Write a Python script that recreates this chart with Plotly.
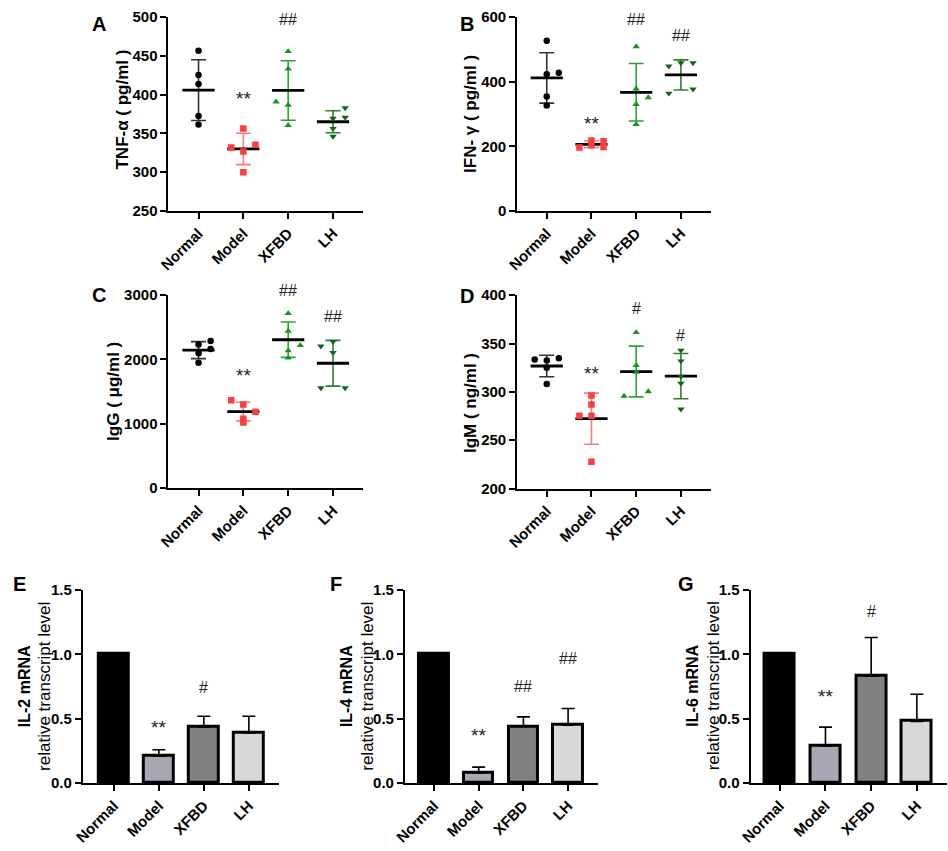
import numpy as np
import plotly.graph_objects as go

W, H = 948, 851

groups = ["Normal", "Model", "XFBD", "LH"]

# ---- scatter panels: individual values (5 per group) and horizontal lane of each point ----
tnf_values = [[456.6, 425.4, 413.6, 372.3, 361.3],
              [356.2, 335.2, 331.8, 326.7, 299.7],
              [455.7, 433.4, 390.8, 386.6, 360.4],
              [382.8, 370.6, 369.3, 356.2, 346.1]]
tnf_lanes = [[0, 0, 0, 0, 0], [0, 1, -1, 0, 0], [0, 0, -1, 0, 0], [1, 1, 0, 0, 0]]

ifn_values = [[527, 428, 423, 354, 326],
              [196, 218, 203, 216, 198],
              [509, 378, 351, 330, 268],
              [458, 458, 448, 377, 364]]
ifn_lanes = [[0, 1, 0, 0, 0], [-1, 0, 0, 1, 1], [0, 0, 1, 0, 0], [0, 1, -1, 1, -1]]

igg_values = [[2288, 2232, 2161, 2095, 1947],
              [1363, 1297, 1185, 1078, 1017],
              [2715, 2441, 2217, 2136, 2024],
              [2278, 2207, 2105, 1556, 1556]]
igg_lanes = [[1, 0, 1, 0, 0], [-1, 0, 1, 0, 0], [0, 0, 1, 0, 0], [0, -1, 0, -1, 1]]

igm_values = [[334.8, 333.5, 332.4, 325.0, 308.0],
              [296.3, 286.8, 275.3, 275.3, 227.7],
              [361.5, 327.4, 320.3, 300.3, 295.6],
              [342.9, 331.8, 315.9, 308.8, 282.0]]
igm_lanes = [[1, -1, 0, 0, 0], [0, 0, -1, 0, 0], [0, 0, 0, 1, -1], [0, 0, 0, 0, 0]]

# ---- bar panels: mean and SD ----
il2_mean = [1.0, 0.21, 0.435, 0.39]
il2_sd = [0.0, 0.05, 0.085, 0.13]
il4_mean = [1.0, 0.08, 0.44, 0.45]
il4_sd = [0.0, 0.045, 0.075, 0.13]
il6_mean = [1.0, 0.29, 0.83, 0.48]
il6_sd = [0.0, 0.145, 0.30, 0.21]

# ---- significance labels ----
tnf_sig = ["", "**", "##", ""];  tnf_sig_y = [None, 401, 497, None]
ifn_sig = ["", "**", "##", "##"]; ifn_sig_y = [None, 286, 593, 544]
igg_sig = ["", "**", "##", "##"]; igg_sig_y = [None, 1820, 3071, 2664]
igm_sig = ["", "**", "#", "#"];  igm_sig_y = [None, 324, 386, 358]
il2_sig = ["", "**", "#", ""];   il2_sig_y = [None, 0.469, 0.742, None]
il4_sig = ["", "**", "##", "##"]; il4_sig_y = [None, 0.41, 0.753, 0.968]
il6_sig = ["", "**", "#", ""];   il6_sig_y = [None, 0.714, 1.335, None]

# ---- styles ----
FONT = "Arial, Liberation Sans, sans-serif"
symbols = ["circle", "square", "triangle-up", "triangle-down"]
msizes = [6.5, 6.5, 6.5, 6.5]
mcolors = ["#000000", "#ff3d3d", "#16961a", "#0a6a12"]
ecolors = ["#333333", "#ff7a7a", "#2aa52e", "#2f7d35"]
bar_colors = ["#000000", "#a8a8b2", "#818181", "#d8d8d8"]
LANE = 0.27

fig = go.Figure()


def px_dom_x(a, b):
    return [a / W, b / W]


def px_dom_y(top, bot):
    return [1 - bot / H, 1 - top / H]


panels = [
    dict(n=1, xd=(158.5, 356), yd=(8.3, 206), yr=[250, 500], dt=50, xr=[-0.67, 3.68]),
    dict(n=2, xd=(511.7, 708.3), yd=(8.3, 206), yr=[0, 600], dt=200, xr=[-0.66, 3.68]),
    dict(n=3, xd=(158.5, 356), yd=(292, 488.7), yr=[0, 3000], dt=1000, xr=[-0.67, 3.68]),
    dict(n=4, xd=(511.7, 708.3), yd=(292, 489.3), yr=[200, 400], dt=50, xr=[-0.66, 3.68]),
    dict(n=5, xd=(71.7, 270), yd=(592.7, 790), yr=[0, 1.5], dt=0.5, xr=[-0.69, 3.66]),
    dict(n=6, xd=(398, 594), yd=(592.7, 790), yr=[0, 1.5], dt=0.5, xr=[-0.65, 3.68]),
    dict(n=7, xd=(748, 947), yd=(592.7, 790), yr=[0, 1.5], dt=0.5, xr=[-0.64, 3.66]),
]

tickfont = dict(family=FONT, size=15, color="#000000")
for p in panels:
    n = p["n"]
    xa = "xaxis" if n == 1 else f"xaxis{n}"
    ya = "yaxis" if n == 1 else f"yaxis{n}"
    fig.layout[xa] = dict(domain=px_dom_x(*p["xd"]), range=p["xr"], anchor=f"y{'' if n == 1 else n}",
                          tickvals=[0, 1, 2, 3], ticktext=[f"<b>{g}</b>" for g in groups],
                          tickangle=-45, showline=True, linecolor="#000", linewidth=2,
                          ticks="outside", ticklen=6, tickwidth=2, tickcolor="#000",
                          showgrid=False, zeroline=False, tickfont=tickfont, fixedrange=True)
    fig.layout[ya] = dict(domain=px_dom_y(*p["yd"]), range=p["yr"], anchor=f"x{'' if n == 1 else n}",
                          dtick=p["dt"], tick0=p["yr"][0], showline=True, linecolor="#000", linewidth=2,
                          ticks="outside", ticklen=6, tickwidth=2, tickcolor="#000",
                          showgrid=False, zeroline=False, tickfont=tickfont,
                          tickformat=".1f" if p["dt"] < 1 else "d",
                          tickprefix="<b>", ticksuffix="</b>", fixedrange=True)


def axref(n):
    return ("x" if n == 1 else f"x{n}"), ("y" if n == 1 else f"y{n}")


def add_scatter_panel(n, values, lanes):
    xr, yr = axref(n)
    for i, g in enumerate(groups):
        v = np.array(values[i], dtype=float)
        mean = v.mean()
        sd = v.std(ddof=1)
        fig.add_trace(go.Scatter(
            x=[i], y=[mean], mode="markers", xaxis=xr, yaxis=yr, showlegend=False,
            marker=dict(symbol="line-ew", size=23, line=dict(width=2.8, color="#000")),
            error_y=dict(type="data", array=[sd], color=ecolors[i], thickness=1.6, width=7.5),
        ))
        xs = [i + LANE * l for l in lanes[i]]
        fig.add_trace(go.Scatter(
            x=xs, y=v, mode="markers", xaxis=xr, yaxis=yr, showlegend=False,
            marker=dict(symbol=symbols[i], size=msizes[i], color=mcolors[i], line=dict(width=0)),
        ))


def add_bar_panel(n, means, sds):
    xr, yr = axref(n)
    fig.add_trace(go.Bar(
        x=[0, 1, 2, 3], y=means, width=0.66, xaxis=xr, yaxis=yr, showlegend=False,
        marker=dict(color=bar_colors, line=dict(color="#000", width=3)),
        error_y=dict(type="data", array=sds, arrayminus=[0] * 4, symmetric=False,
                     color="#000", thickness=1.6, width=6.5),
    ))


add_scatter_panel(1, tnf_values, tnf_lanes)
add_scatter_panel(2, ifn_values, ifn_lanes)
add_scatter_panel(3, igg_values, igg_lanes)
add_scatter_panel(4, igm_values, igm_lanes)
add_bar_panel(5, il2_mean, il2_sd)
add_bar_panel(6, il4_mean, il4_sd)
add_bar_panel(7, il6_mean, il6_sd)

annotations = []
sig_sets = [(1, tnf_sig, tnf_sig_y), (2, ifn_sig, ifn_sig_y), (3, igg_sig, igg_sig_y),
            (4, igm_sig, igm_sig_y), (5, il2_sig, il2_sig_y), (6, il4_sig, il4_sig_y),
            (7, il6_sig, il6_sig_y)]
for n, labels, ys in sig_sets:
    p = panels[n - 1]
    lo, hi = p["yr"]
    xr, yr = axref(n)
    for i, (t, y) in enumerate(zip(labels, ys)):
        if not t:
            continue
        annotations.append(dict(
            x=i, xref=xr, y=(y - lo) / (hi - lo), yref=f"{yr} domain",
            text=t, showarrow=False, xanchor="center", yanchor="middle",
            yshift=-5 if t == "**" else 0,
            font=dict(family=FONT, size=19 if t == "**" else 16, color="#222")))

# panel letters
letters = [("A", 88, 15), ("B", 461, 15), ("C", 88, 292), ("D", 461, 293),
           ("E", 8, 587), ("F", 328, 587), ("G", 683, 587)]
for t, x, y in letters:
    annotations.append(dict(text=f"<b>{t}</b>", x=x / W, y=1 - y / H, xref="paper", yref="paper",
                            showarrow=False, xanchor="center", yanchor="middle",
                            font=dict(family=FONT, size=20, color="#000")))

# y-axis titles
line2 = "<span style='font-size:17px'>relative transcript level</span>"
titles = [("<b>TNF-α ( pg/ml )</b>", 112, 103, 17),
          ("<b>IFN- γ ( pg/ml )</b>", 465, 107, 17),
          ("<b>IgG ( μg/ml )</b>", 103, 390, 17),
          ("<b>IgM ( ng/ml )</b>", 465, 402, 17),
          ("<b>IL-2 mRNA</b><br>" + line2, 23, 691, 16),
          ("<b>IL-4 mRNA</b><br>" + line2, 350, 691, 16),
          ("<b>IL-6 mRNA</b><br>" + line2, 700, 691, 16)]
for t, x, y, s in titles:
    annotations.append(dict(text=t, x=x / W, y=1 - y / H, xref="paper", yref="paper",
                            showarrow=False, xanchor="center", yanchor="middle", textangle=-90,
                            font=dict(family=FONT, size=s, color="#000")))

fig.update_layout(
    width=W, height=H, margin=dict(l=0, r=0, t=0, b=0),
    paper_bgcolor="white", plot_bgcolor="white",
    annotations=annotations, bargap=0, showlegend=False,
    font=dict(family=FONT, color="#000"),
)

fig.write_html("out.html", config={"displayModeBar": False},
               post_script="document.body.style.margin='0px';document.body.style.overflow='hidden';")
